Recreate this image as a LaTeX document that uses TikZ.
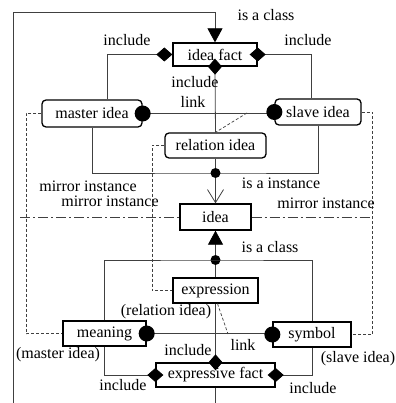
\documentclass[tikz,border=0pt]{standalone}
\usepackage{fontspec}
\setmainfont{Liberation Serif}
\usetikzlibrary{arrows.meta,calc}
\begin{document}
\begin{tikzpicture}[x=1pt,y=-1pt,
  font=\fontsize{16}{18}\selectfont,
  box/.style={draw=black,line width=1.3pt,minimum height=25pt,inner sep=0pt,fill=white},
  rbox/.style={box,rounded corners=4pt},
  lbl/.style={inner sep=0pt},
  conn/.style={draw=black!75,line width=0.8pt},
  dsh/.style={draw=black!75,line width=0.7pt,dash pattern=on 3pt off 2pt},
  dshdot/.style={draw=black!75,line width=0.7pt,dash pattern=on 10pt off 3pt on 2pt off 3pt},
  dia/.style={-{Diamond[length=16pt,width=14pt,fill=black,color=black]}},
  tri/.style={-{Triangle[length=14pt,width=15pt,fill=black,color=black]}},
  vee/.style={-{Straight Barb[length=13pt,width=16pt]}},
]
\useasboundingbox (0,0) rectangle (395,403);

% boxes
\node[rbox,minimum width=100pt,minimum height=27pt] (master) at (92,113.5) {master idea};
\node[rbox,minimum width=86pt,minimum height=26pt] (slave) at (318,112) {slave idea};
\node[box,minimum width=84pt,minimum height=23pt] (ifact) at (215,54.5) {idea fact};
\node[rbox,minimum width=101pt] (rel) at (215.5,145.5) {relation idea};
\node[box,minimum width=71pt,minimum height=26pt] (idea) at (215.5,217) {idea};
\node[box,minimum width=85pt] (expr) at (215.5,290.5) {expression};
\node[box,minimum width=83pt] (mean) at (104.5,333.5) {meaning};
\node[box,minimum width=78pt] (sym) at (312,334.5) {symbol};
\node[box,minimum width=119pt,minimum height=24pt] (efact) at (215.5,375) {expressive fact};

% coordinates
\coordinate (fb) at (13,403);
\coordinate (ft) at (215,12);
\coordinate (eb) at (215.5,403);
\coordinate (d1) at (215.5,173);
\coordinate (d2) at (215.5,260);
\coordinate (lk1) at (247,113);
\coordinate (lk2) at (228,334);
\coordinate (dd1) at (20,217);
\coordinate (dd2) at (370,217);

% connectors top half
\draw[conn,tri] (fb) |- (ft) -- (ifact.north);
\draw[conn,dia] (master.north) ++(15,0) |- (ifact.west);
\draw[conn,dia,shorten >=-8pt] (slave.north) ++(-7,0) |- (ifact.east);
\draw[conn,dia,shorten >=-8pt] (rel.north) -- (ifact.south);
\draw[conn] (master.east) -- (master.east -| slave.west);
\fill (master.east) circle (8pt);
\fill (slave.west) circle (8pt);
\draw[dsh] (lk1) -- (rel.north);
\draw[conn] (master.south) |- (d1) -| (slave.south);
\draw[conn,vee] (rel.south) -- (d1) -- (idea.north);
\fill (d1) circle (5pt);
\draw[dshdot] (dd1) -- (idea.west);
\draw[dshdot] (idea.east) -- (dd2);
\draw[dsh] (master.west) -- ++(-15,0) |- (mean.west);
\draw[dsh] (slave.east) -- ++(11,0) |- (sym.east);
\draw[dsh] (rel.west) -- ++(-12,0) |- (expr.west);

% connectors bottom half
\draw[conn,tri] (expr.north) -- (d2) -- (idea.south);
\fill (d2) circle (5pt);
\draw[conn] (mean.north) |- (d2) -| (sym.north);
\draw[conn,dia,shorten >=-8pt] (mean.south) |- (efact.west);
\draw[conn,dia,shorten >=-8pt] (sym.south) |- (efact.east);
\draw[conn,dia,shorten >=-8pt] (expr.south) -- (efact.north);
\draw[conn] (mean.east) -- (mean.east -| sym.west);
\fill (mean.east) circle (8pt);
\fill (sym.west) circle (8pt);
\draw[dsh] (expr.south) ++(2,0) -- (lk2);
\draw[conn] (efact.south) -- (eb);

% labels
\node[lbl] (l1) at (266,15) {is a class};
\node[lbl] (l2) at (127,40) {include};
\node[lbl] (l3) at (308,40) {include};
\node[lbl] (l4) at (195,82) {include};
\node[lbl] (l5) at (193,102) {link};
\node[lbl] (l6) at (281,183) {is a instance};
\node[lbl] (l7) at (88,186) {mirror instance};
\node[lbl] (l8) at (110,201) {mirror instance};
\node[lbl] (l9) at (326,203) {mirror instance};
\node[lbl] (l10) at (270,247) {is a class};
\node[lbl] (l11) at (166,312) {(relation idea)};
\node[lbl] (l12) at (58,355) {(master idea)};
\node[lbl] (l13) at (358,359) {(slave idea)};
\node[lbl] (l14) at (243,345) {link};
\node[lbl] (l15) at (188,350) {include};
\node[lbl] (l16) at (123,385) {include};
\node[lbl] (l17) at (313,388) {include};
\end{tikzpicture}
\end{document}
